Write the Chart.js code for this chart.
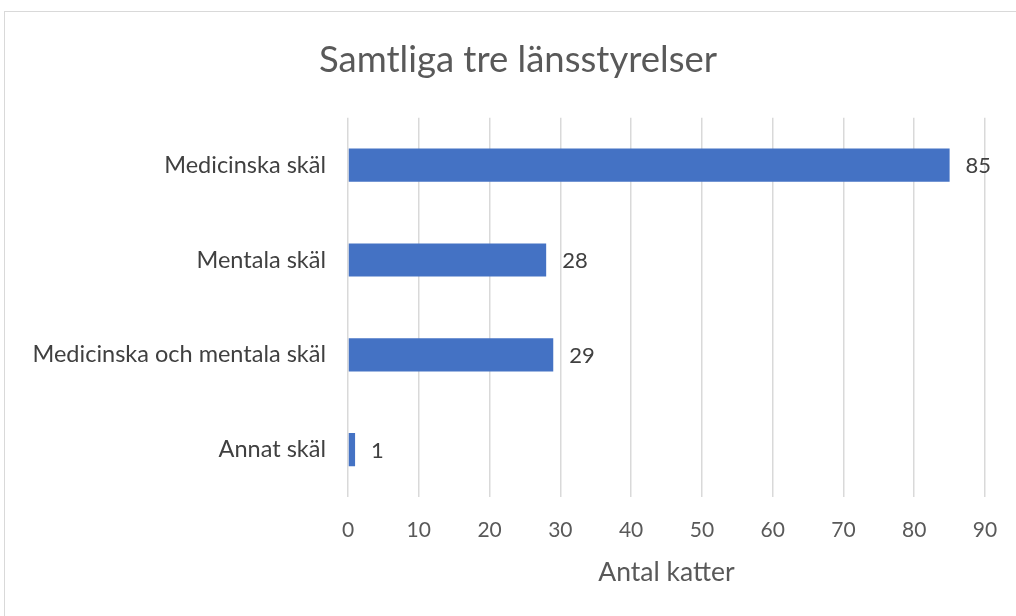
<!DOCTYPE html>
<html>
<head>
<meta charset="utf-8">
<script src="https://cdn.jsdelivr.net/npm/chart.js"></script>
<style>
  html, body { margin: 0; padding: 0; background: #fff; overflow: hidden; width: 1016px; height: 616px; }
  #frame { position: absolute; left: 4px; top: 11px; width: 1030px; height: 620px; border: 1px solid #d9d9d9; }
  #wrap { position: absolute; left: 0; top: 0; width: 1036px; height: 616px; }
</style>
</head>
<body>
<div id="frame"></div>
<div id="wrap"><canvas id="chart" width="1036" height="616"></canvas></div>
<script>
// --------- Data ---------
const categories = ["Medicinska skäl", "Mentala skäl", "Medicinska och mentala skäl", "Annat skäl"];
const counts = [85, 28, 29, 1];
const xTicks = [0, 10, 20, 30, 40, 50, 60, 70, 80, 90];

const FONT = "Lato, 'Open Sans', sans-serif";

// draws value labels just past the bar ends
const valueLabels = {
  id: "valueLabels",
  afterDatasetsDraw(chart) {
    const ctx = chart.ctx;
    const meta = chart.getDatasetMeta(0);
    ctx.save();
    ctx.font = "22px " + FONT;
    ctx.fillStyle = "#404040";
    ctx.textBaseline = "middle";
    ctx.textAlign = "left";
    meta.data.forEach((bar, i) => {
      ctx.fillText(String(counts[i]), bar.x + 16, bar.y + 1);
    });
    ctx.restore();
  }
};

new Chart(document.getElementById("chart"), {
  type: "bar",
  data: {
    labels: categories,
    datasets: [{
      data: counts,
      backgroundColor: "#4472c4",
      borderWidth: 0,
      categoryPercentage: 1,
      barPercentage: 0.35
    }]
  },
  options: {
    indexAxis: "y",
    responsive: false,
    animation: false,
    layout: { padding: 0 },
    plugins: {
      legend: { display: false },
      tooltip: { enabled: false },
      title: {
        display: true,
        text: "Samtliga tre länsstyrelser",
        color: "#595959",
        font: { family: FONT, size: 36.5, weight: "normal" },
        padding: { top: 38, bottom: 36 }
      }
    },
    scales: {
      x: {
        min: 0,
        max: 90,
        afterBuildTicks: axis => { axis.ticks = xTicks.map(v => ({ value: v })); },
        grid: { color: "#d9d9d9", lineWidth: 1.5, drawTicks: false },
        border: { display: false },
        ticks: { color: "#595959", font: { family: FONT, size: 21 }, padding: 21 },
        title: {
          display: true,
          text: "Antal katter",
          color: "#595959",
          font: { family: FONT, size: 26.5 },
          padding: { top: 0, bottom: 28 }
        },
        afterFit: axis => { axis.height = 616 - 497; }
      },
      y: {
        grid: { display: false },
        border: { display: false },
        ticks: { color: "#404040", font: { family: FONT, size: 23.5 }, padding: 14 },
        afterFit: axis => { axis.width = 348; }
      },
      // empty right-hand strip, so the plot ends at 90 while the title stays centred on the frame
      yRight: {
        type: "category",
        position: "right",
        grid: { display: false },
        border: { display: false },
        ticks: { display: false },
        afterFit: axis => { axis.width = 1036 - 985; }
      }
    }
  },
  plugins: [valueLabels]
});
</script>
</body>
</html>
